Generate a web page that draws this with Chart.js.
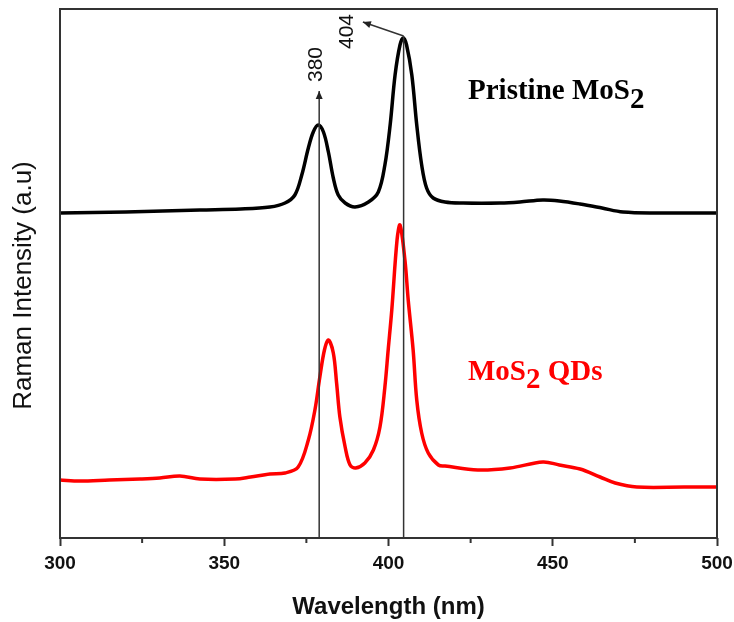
<!DOCTYPE html>
<html>
<head>
<meta charset="utf-8">
<script src="https://cdn.jsdelivr.net/npm/chart.js@4"></script>
<style>
  html, body { margin: 0; padding: 0; background: #fff; }
  #wrap { width: 734px; height: 622px; }
</style>
</head>
<body>
<div id="wrap"><canvas id="chart"></canvas></div>
<script>
// Pristine MoS2 spectrum
const pristineWavelength = [300, 320, 342.6, 355, 363.9, 368.5, 371.5, 373.6, 375.6, 377.1, 378.6, 380.2, 381.7, 383.2, 384.7, 386.8, 389.8, 393.9, 396.9, 398.9, 400.5, 402, 403.5, 404.5, 405.5, 407.1, 408.6, 410.1, 411.6, 413.6, 417.2, 422.7, 434, 440, 447, 452, 458.3, 465, 471.4, 482.6, 490, 500];
const pristineIntensity = [325, 326, 328, 329, 331, 335, 343, 363, 390, 406, 413, 406, 386, 360, 343, 335, 331, 336, 346, 373, 413, 463, 493, 500, 493, 463, 413, 373, 350, 340, 336, 335, 335, 336, 338, 337, 334, 330, 326, 325, 325, 325];

// MoS2 QDs spectrum
const qdWavelength = [300, 306, 315, 324.4, 330.4, 336.5, 342.6, 353.3, 358, 363.9, 368.5, 372.5, 375.6, 377.6, 379.1, 380.5, 381.7, 383.2, 384.2, 385.2, 386.8, 388.3, 390, 392.8, 395.4, 397.4, 398.9, 399.9, 401, 402.6, 403.5, 405, 406, 407.5, 408.6, 410.1, 412.1, 415.2, 417.2, 427.2, 437, 447, 452, 458.3, 464.4, 469, 475.6, 490, 500];
const qdIntensity = [58, 57, 58, 59, 60, 62, 59, 59, 61, 64, 65, 71, 98, 128, 161, 188, 198, 185, 155, 121, 91, 73, 70, 75, 88, 111, 151, 188, 228, 298, 313, 278, 238, 188, 138, 105, 85, 73, 72, 68, 70, 76, 73, 69, 61, 55, 51, 51, 51];

const xTicks = [300, 350, 400, 450, 500];
const xMinorTicks = [325, 375, 425, 475];

// peak markers
const peakLines = [378.9, 404.6];
const peakLabels = ["380", "404"];

const toPoints = (xs, ys) => xs.map((x, i) => ({ x: x, y: ys[i] }));

const annotations = {
    id: "annotations",
    afterDatasetsDraw(chart) {
        const { ctx, chartArea: a, scales: { x, y } } = chart;
        ctx.save();

        // frame
        ctx.strokeStyle = "#333";
        ctx.lineWidth = 2;
        ctx.strokeRect(a.left, a.top, a.right - a.left, a.bottom - a.top);

        // minor ticks
        xMinorTicks.forEach(v => {
            const px = x.getPixelForValue(v);
            ctx.beginPath();
            ctx.moveTo(px, a.bottom);
            ctx.lineTo(px, a.bottom + 5);
            ctx.stroke();
        });

        const arrow = (x0, y0, x1, y1) => {
            ctx.beginPath();
            ctx.moveTo(x0, y0);
            ctx.lineTo(x1, y1);
            ctx.stroke();
            const ang = Math.atan2(y1 - y0, x1 - x0);
            const len = 8, w = 3.5;
            ctx.beginPath();
            ctx.moveTo(x1, y1);
            ctx.lineTo(x1 - len * Math.cos(ang) + w * Math.sin(ang), y1 - len * Math.sin(ang) - w * Math.cos(ang));
            ctx.lineTo(x1 - len * Math.cos(ang) - w * Math.sin(ang), y1 - len * Math.sin(ang) + w * Math.cos(ang));
            ctx.closePath();
            ctx.fill();
        };

        // vertical peak lines
        ctx.strokeStyle = "#333";
        ctx.fillStyle = "#222";
        ctx.lineWidth = 1.5;
        const l1 = x.getPixelForValue(peakLines[0]);
        arrow(l1, a.bottom, l1, y.getPixelForValue(447));
        const l2 = x.getPixelForValue(peakLines[1]);
        ctx.beginPath();
        ctx.moveTo(l2, a.bottom);
        ctx.lineTo(l2, y.getPixelForValue(502));
        ctx.stroke();
        arrow(l2, y.getPixelForValue(502), x.getPixelForValue(392.2), y.getPixelForValue(516));

        // rotated peak labels
        ctx.font = "21px 'Liberation Sans', Arial, sans-serif";
        ctx.fillStyle = "#111";
        ctx.textAlign = "center";
        ctx.textBaseline = "middle";
        [[377.8, 473.5], [387.2, 506.5]].forEach((p, i) => {
            ctx.save();
            ctx.translate(x.getPixelForValue(p[0]), y.getPixelForValue(p[1]));
            ctx.rotate(-Math.PI / 2);
            ctx.fillText(peakLabels[i], 0, 1);
            ctx.restore();
        });

        // series labels with subscript 2
        const label = (parts, wx, vy, color) => {
            ctx.font = "bold 29px 'Liberation Serif', 'Times New Roman', serif";
            ctx.fillStyle = color;
            ctx.textAlign = "left";
            ctx.textBaseline = "alphabetic";
            let px = x.getPixelForValue(wx);
            const py = y.getPixelForValue(vy);
            parts.forEach(([t, dy]) => {
                ctx.fillText(t, px, py + dy);
                px += ctx.measureText(t).width;
            });
        };
        label([["Pristine MoS", 0], ["2", 9]], 424.2, 439, "#000");
        label([["MoS", 0], ["2", 8], [" QDs", 0]], 424.2, 158, "#ff0000");

        // y axis title
        ctx.font = "26px 'Liberation Sans', Arial, sans-serif";
        ctx.fillStyle = "#111";
        ctx.textAlign = "center";
        ctx.textBaseline = "middle";
        ctx.translate(a.left - 36, (a.top + a.bottom) / 2 + 12);
        ctx.rotate(-Math.PI / 2);
        ctx.fillText("Raman Intensity (a.u)", 0, 0);

        ctx.restore();
    }
};

const config = {
    type: "line",
    data: {
        datasets: [
            {
                label: "Pristine MoS2",
                data: toPoints(pristineWavelength, pristineIntensity),
                borderColor: "#000",
                borderWidth: 3.5,
                pointRadius: 0,
                tension: 0.35,
                borderJoinStyle: "round",
            },
            {
                label: "MoS2 QDs",
                data: toPoints(qdWavelength, qdIntensity),
                borderColor: "#ff0000",
                borderWidth: 3.5,
                pointRadius: 0,
                tension: 0.35,
                borderJoinStyle: "round",
            },
        ],
    },
    options: {
        responsive: true,
        maintainAspectRatio: false,
        animation: false,
        layout: { padding: { top: 9, right: 17, left: 0, bottom: 0 } },
        plugins: {
            legend: { display: false },
            tooltip: { enabled: false },
        },
        scales: {
            x: {
                type: "linear",
                min: 300,
                max: 500,
                afterBuildTicks: s => { s.ticks = xTicks.map(v => ({ value: v })); },
                afterFit: s => {
                    s.height = 84;
                    s.paddingLeft = 0;
                    s.paddingRight = 0;
                },
                grid: {
                    drawOnChartArea: false,
                    drawTicks: true,
                    tickLength: 8,
                    tickWidth: 2,
                    tickColor: "#333",
                },
                border: { display: false },
                ticks: {
                    padding: 6,
                    color: "#111",
                    font: { family: "'Liberation Sans', Arial, sans-serif", size: 19, weight: "bold" },
                },
                title: {
                    display: true,
                    text: "Wavelength (nm)",
                    color: "#111",
                    padding: { top: 4, bottom: 0 },
                    font: { family: "'Liberation Sans', Arial, sans-serif", size: 24, weight: "bold" },
                },
            },
            y: {
                min: 0,
                max: 529,
                afterFit: s => { s.width = 60; },
                grid: { display: false },
                border: { display: false },
                ticks: { display: false },
            },
        },
    },
    plugins: [annotations],
};

new Chart(document.getElementById("chart"), config);
</script>
</body>
</html>
